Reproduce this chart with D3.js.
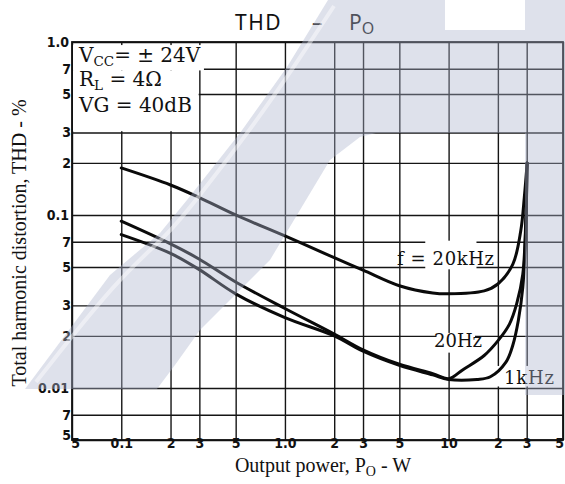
<!DOCTYPE html>
<html>
<head>
<meta charset="utf-8">
<script src="https://cdn.jsdelivr.net/npm/d3@7"></script>
<style>
  html, body { margin: 0; padding: 0; background: #fff; }
  svg { display: block; }
</style>
</head>
<body>
<svg id="chart" width="565" height="484"></svg>
<script>
// ---------------- data ----------------
const xTicks = [0.05, 0.1, 0.2, 0.3, 0.5, 1, 2, 3, 5, 10, 20, 30, 50];
const xTickLabels = ["5", "0.1", "2", "3", "5", "1.0", "2", "3", "5", "10", "2", "3", "5"];
const yTicks = [1, 0.7, 0.5, 0.3, 0.2, 0.1, 0.07, 0.05, 0.03, 0.02, 0.01, 0.007, 0.005];
const yTickLabels = ["1.0", "7", "5", "3", "2", "0.1", "7", "5", "3", "2", "0.01", "7", "5"];

const power20k = [0.1, 0.2, 0.3, 0.5, 1.0, 2, 3, 5, 8, 10, 16.5, 20, 24.7, 27.6, 29.0, 30.2];
const thd20k   = [0.187, 0.149, 0.126, 0.100, 0.0756, 0.0566, 0.048, 0.039, 0.0354, 0.035, 0.0364, 0.0399, 0.052, 0.081, 0.126, 0.2];

const power20 = [0.1, 0.2, 0.3, 0.5, 1.0, 2, 3, 5, 8, 10, 12.3, 16.5, 20, 23.5, 26.1, 28.4, 29.7, 30.2];
const thd20   = [0.092, 0.068, 0.0555, 0.041, 0.0288, 0.0205, 0.0166, 0.0137, 0.0121, 0.0113, 0.0128, 0.0154, 0.0187, 0.0233, 0.0308, 0.0455, 0.1, 0.2];

const power1k = [0.1, 0.2, 0.3, 0.5, 1.0, 2, 3, 5, 8, 10, 14.9, 18, 22.4, 24.7, 26.7, 28.4, 29.3, 30.2];
const thd1k   = [0.077, 0.060, 0.0483, 0.035, 0.0255, 0.0200, 0.0163, 0.0135, 0.0119, 0.0112, 0.0112, 0.0116, 0.0141, 0.0177, 0.0247, 0.0381, 0.0644, 0.2];

// ---------------- layout ----------------
const L = 72, R = 563, T = 42, B = 440;
const svg = d3.select("#chart");
const x = d3.scaleLog().domain([0.05, 50]).range([L, R]);
const y = d3.scaleLog().domain([0.005, 1]).range([B, T]);

const serif = "'DejaVu Serif', serif";
const tnr = "'Liberation Serif', 'Times New Roman', serif";
const tickFont = "'DejaVu Sans Condensed', 'DejaVu Sans', sans-serif";

// grid via axes
const gx = svg.append("g").attr("transform", `translate(0,${B})`)
  .call(d3.axisBottom(x).tickValues(xTicks).tickSize(-(B - T)).tickPadding(5)
    .tickFormat((d, i) => xTickLabels[i]));
const gy = svg.append("g").attr("transform", `translate(${L},0)`)
  .call(d3.axisLeft(y).tickValues(yTicks).tickSize(-(R - L)).tickPadding(3)
    .tickFormat((d, i) => yTickLabels[i]));
[gx, gy].forEach(g => {
  g.select(".domain").remove();
  g.selectAll(".tick line").attr("stroke", "#151515").attr("stroke-width", 1.4);
  g.selectAll(".tick text").attr("fill", "#111").attr("font-family", tickFont)
    .attr("font-weight", "bold").attr("font-size", 14);
});
gx.selectAll(".tick text").attr("dy", "0.2em")
  .attr("dx", (d, i) => i === 0 ? 3 : (i === xTicks.length - 1 ? -4 : 0));
gy.selectAll(".tick text").attr("dx", (d, i) => yTickLabels[i].length === 1 ? 2 : 0)
  .attr("dy", (d, i) => i === yTicks.length - 1 ? "-0.05em" : "0.32em");

// white label backgrounds (cover grid)
const boxes = [
  [0.05, 0.96, 0.32, 0.685],
  [0.05, 0.685, 0.297, 0.305],
  [7.1, 0.071, 14.8, 0.0485],
  [8.3, 0.0208, 14.5, 0.0160],
  [14.8, 0.0134, 30.8, 0.0102]
];
svg.append("g").selectAll("rect").data(boxes).join("rect")
  .attr("x", d => x(d[0]) + 1).attr("y", d => y(d[1]))
  .attr("width", d => x(d[2]) - x(d[0]) - 1).attr("height", d => y(d[3]) - y(d[1]))
  .attr("fill", "#fff");

// curves
const line = d3.line().x(d => x(d[0])).y(d => y(d[1])).curve(d3.curveCatmullRom.alpha(0.5));
const series = [
  d3.zip(power20k, thd20k),
  d3.zip(power20, thd20),
  d3.zip(power1k, thd1k)
];
svg.append("g").selectAll("path").data(series).join("path")
  .attr("d", line).attr("fill", "none").attr("stroke", "#0a0a0a")
  .attr("stroke-width", 3).attr("stroke-linejoin", "round").attr("stroke-linecap", "round");

// frame
svg.append("rect").attr("x", L).attr("y", T).attr("width", R - L).attr("height", B - T)
  .attr("fill", "none").attr("stroke", "#111").attr("stroke-width", 1.8);

// annotations
const ann = svg.append("g").attr("font-family", serif).attr("fill", "#111").attr("font-size", 20);
let t = ann.append("text").attr("x", 79).attr("y", 62);
t.append("tspan").text("V");
t.append("tspan").attr("font-size", 13.5).attr("dy", 4).text("CC");
t.append("tspan").attr("dy", -4).text("= \u00b1 24V");
t = ann.append("text").attr("x", 79).attr("y", 86);
t.append("tspan").text("R");
t.append("tspan").attr("font-size", 13.5).attr("dy", 4).text("L");
t.append("tspan").attr("dy", -4).text(" = 4\u03a9");
ann.append("text").attr("x", 79).attr("y", 112).text("VG = 40dB");
ann.append("text").attr("x", 397).attr("y", 265).attr("font-size", 18).attr("letter-spacing", 0.6).text("f = 20kHz");
ann.append("text").attr("x", 434).attr("y", 347).attr("font-size", 18).text("20Hz");
ann.append("text").attr("x", 504).attr("y", 384).attr("font-size", 18).attr("letter-spacing", 0.8).text("1kHz");

// title
const title = svg.append("text").attr("font-family", "'Noto Sans', 'Open Sans', sans-serif")
  .attr("font-size", 21).attr("fill", "#111").attr("y", 30);
title.append("tspan").attr("x", 235).attr("letter-spacing", 1.5).text("THD");
title.append("tspan").attr("x", 312).text("\u2013");
title.append("tspan").attr("x", 349).text("P");
title.append("tspan").attr("font-size", 16).attr("dy", 4).text("O");

// axis titles
const xl = svg.append("text").attr("x", 323).attr("y", 472).attr("text-anchor", "middle")
  .attr("font-family", tnr).attr("font-size", 20).attr("fill", "#111");
xl.append("tspan").text("Output power, P");
xl.append("tspan").attr("font-size", 14).attr("dy", 4).text("O");
xl.append("tspan").attr("dy", -4).text(" - W");

svg.append("text").attr("transform", "translate(26,243) rotate(-90)").attr("text-anchor", "middle")
  .attr("font-family", tnr).attr("font-size", 20).attr("fill", "#111")
  .text("Total harmonic distortion, THD - %");

// faint watermark overlay (decoration)
const wm = svg.append("g").attr("pointer-events", "none");
const band = [[25,389],[110,275],[160,233],[187,200],[240,133],[287,67],[328,0],
  [445,0],[445,30],[525,30],[525,0],[565,0],[565,395],[525,395],
  [525,133],[376,133],[360,137],[330,160],[300,210],[270,260],[200,330],[175,365],[157,389]];
wm.append("path").attr("d", d3.line()(band) + "Z")
  .attr("fill", "rgb(172,180,205)").attr("fill-opacity", 0.4);
wm.append("path").attr("d", d3.line().curve(d3.curveBasis)([[36,382],[118,278],[168,235],[196,200],[248,133],[294,67],[334,6]]))
  .attr("fill", "none").attr("stroke", "#fff").attr("stroke-opacity", 0.45).attr("stroke-width", 4);
</script>
</body>
</html>
